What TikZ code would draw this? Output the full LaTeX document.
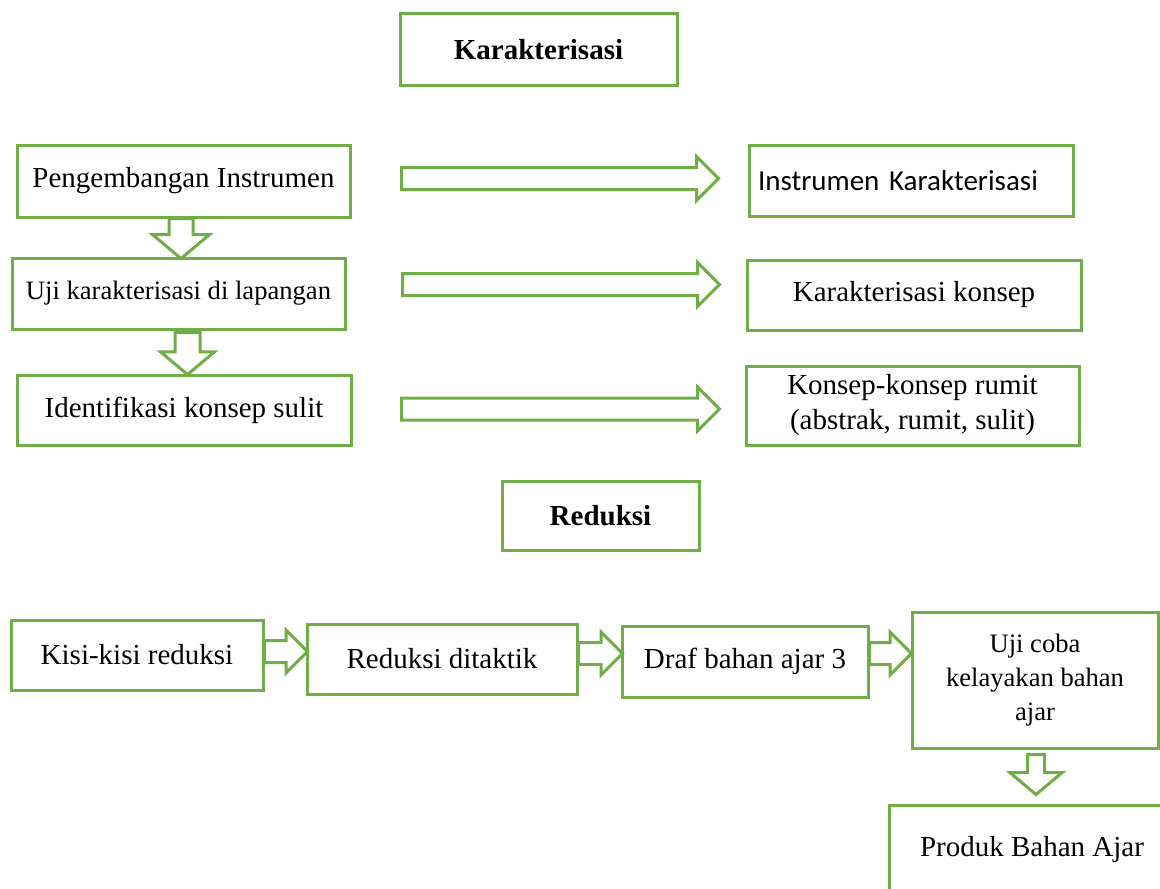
\documentclass[tikz,border=0pt]{standalone}
\usepackage{fontspec}
\setmainfont{Liberation Serif}
\newfontfamily\carlito{Carlito}
\usetikzlibrary{shapes.arrows}
\definecolor{kgreen}{RGB}{112,173,71}
\tikzset{
  box/.style={draw=kgreen, line width=1.5pt, inner sep=0pt, align=center, font=\fontsize{14.5}{17.5}\selectfont},
  smallbox/.style={box, font=\fontsize{13.3}{17}\selectfont},
  titlebox/.style={box, font=\fontsize{14.5}{17.5}\selectfont\bfseries},
  hblock/.style={single arrow, draw=kgreen, fill=white, line width=1.5pt, inner xsep=0pt,
    single arrow head indent=0pt, anchor=tail},
  vblock/.style={hblock, rotate=-90, single arrow tip angle=100}
}

\begin{document}
\begin{tikzpicture}[x=0.5pt,y=-0.5pt]
\clip (0,0) rectangle (1160,888);
% karakterisasi
\node[titlebox, minimum width=138.5pt, minimum height=36pt] (kar) at (538.5,50) {Karakterisasi};
\node[box, minimum width=166.5pt, minimum height=36pt] (peng) at (183.5,181) {Pengembangan Instrumen};
\node[smallbox, minimum width=166.5pt, minimum height=35.5pt] (ujik) at (178.5,293.5) {Uji karakterisasi di lapangan};
\node[box, minimum width=167pt, minimum height=35pt] (iden) at (184,410) {Identifikasi konsep sulit};
\node[box, text width=153pt, inner xsep=4.5pt, align=left, minimum height=35.5pt,
  font=\carlito\fontsize{14.5}{17.5}\selectfont] (inst) at (911,180.5) {Instrumen Karakterisasi};
\node[box, minimum width=167pt, minimum height=35pt] (kkon) at (914,295) {Karakterisasi konsep};
\node[box, minimum width=166.5pt, minimum height=39.5pt] (rumit) at (912.5,405.5) {Konsep-konsep rumit\\(abstrak, rumit, sulit)};
\node[hblock, minimum height=158.5pt, inner ysep=4.75pt, single arrow head extend=5.5pt] (ar1) at (400,178.5) {};
\node[hblock, minimum height=158.5pt, inner ysep=4.75pt, single arrow head extend=5.5pt] (ar2) at (401,284.5) {};
\node[hblock, minimum height=159pt, inner ysep=4.75pt, single arrow head extend=5.5pt] (ar3) at (400,409) {};
\node[vblock, minimum height=20pt, inner ysep=5.25pt, single arrow head extend=8.25pt] (dn1) at (181,217) {};
\node[vblock, minimum height=21pt, inner ysep=5.5pt, single arrow head extend=7.25pt] (dn2) at (187.5,331) {};
% reduksi
\node[titlebox, minimum width=98.5pt, minimum height=34.5pt] (red) at (600.5,515.5) {Reduksi};
\node[box, minimum width=126pt, minimum height=35pt] (kisi) at (137,655) {Kisi-kisi reduksi};
\node[box, minimum width=135pt, minimum height=35pt] (redd) at (442,659) {Reduksi ditaktik};
\node[box, minimum width=123pt, minimum height=35.5pt] (draf) at (745,661.5) {Draf bahan ajar 3};
\node[smallbox, minimum width=123pt, minimum height=68pt] (ujic) at (1035,680) {Uji coba\\kelayakan bahan\\ajar};
\node[box, minimum width=143pt, minimum height=45pt] (prod) at (1032,850) {Produk Bahan Ajar};
\node[hblock, minimum height=21.5pt, inner ysep=4.75pt, single arrow head extend=5.25pt] (br1) at (263,651.5) {};
\node[hblock, minimum height=22pt, inner ysep=4.75pt, single arrow head extend=5.25pt] (br2) at (577,653.5) {};
\node[hblock, minimum height=21pt, inner ysep=4.75pt, single arrow head extend=5.25pt] (br3) at (868,653.5) {};
\node[vblock, minimum height=20pt, inner ysep=3.5pt, single arrow head extend=8.75pt] (dn3) at (1036,753) {};
\end{tikzpicture}
\end{document}
